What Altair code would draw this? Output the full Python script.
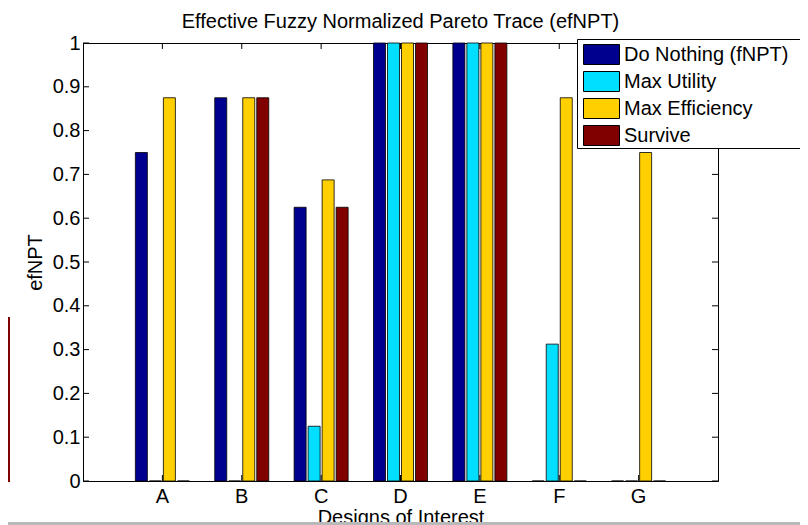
import altair as alt
import pandas as pd

designs = ["A", "B", "C", "D", "E", "F", "G"]
series = ["Do Nothing (fNPT)", "Max Utility", "Max Efficiency", "Survive"]
do_nothing = [0.75, 0.875, 0.625, 1.0, 1.0, 0.0, 0.0]
max_utility = [0.0, 0.0, 0.125, 1.0, 1.0, 0.3125, 0.0]
max_efficiency = [0.875, 0.875, 0.6875, 1.0, 1.0, 0.875, 0.75]
survive = [0.0, 0.875, 0.625, 1.0, 1.0, 0.0, 0.0]
colors = ["#00008f", "#00dfff", "#ffcf00", "#800000"]
y_ticks = [0.0, 0.1, 0.2, 0.3, 0.4, 0.5, 0.6, 0.7, 0.8, 0.9, 1.0]

W, H = 635, 438
FONT = "Liberation Sans"

rows = []
for name, vals in zip(series, [do_nothing, max_utility, max_efficiency, survive]):
    for d, v in zip(designs, vals):
        rows.append({"design": d, "series": name, "value": v})
df = pd.DataFrame(rows)

x_axis = alt.Axis(
    title="Designs of Interest",
    labelAngle=0,
    ticks=False,
    labelPadding=5,
    labelFontSize=20,
    titleFontSize=20,
    titleFontWeight="normal",
    titleY=36,
    titleBaseline="middle",
    domainColor="black",
    labelColor="black",
    titleColor="black",
)
y_axis = alt.Axis(
    title="efNPT",
    values=y_ticks,
    format=".1~f",
    ticks=False,
    grid=False,
    labelPadding=3,
    labelFontSize=20,
    titleFontSize=20,
    titleFontWeight="normal",
    titleAngle=270,
    titleX=-48,
    titleY=H / 2,
    titleBaseline="middle",
    titleAlign="center",
    domainColor="black",
    labelColor="black",
    titleColor="black",
)

bars = alt.Chart(df).mark_bar(stroke="black", strokeWidth=0.8).encode(
    x=alt.X("design:N", sort=designs,
            scale=alt.Scale(paddingInner=0, paddingOuter=0.5), axis=x_axis),
    xOffset=alt.XOffset(
        "series:N", sort=series,
        scale=alt.Scale(paddingInner=0.1429, paddingOuter=0.906),
    ),
    y=alt.Y("value:Q", scale=alt.Scale(domain=[0, 1], nice=False, zero=True),
            axis=y_axis),
    color=alt.Color(
        "series:N",
        sort=series,
        scale=alt.Scale(domain=series, range=colors),
        legend=alt.Legend(
            title=None,
            orient="none",
            legendX=493,
            legendY=-3,
            padding=4,
            symbolOffset=3,
            symbolType="M-1,-1L2.6,-1L2.6,1L-1,1Z",
            symbolSize=400,
            symbolStrokeColor="black",
            symbolStrokeWidth=1,
            symbolOpacity=1,
            labelFontSize=20,
            labelColor="black",
            labelOffset=20,
            rowPadding=2,
            labelLimit=400,
        ),
    ),
)

xt = pd.DataFrame({"design": designs})
yt = pd.DataFrame({"value": y_ticks})

top_ticks = alt.Chart(xt).mark_rule(color="black", strokeWidth=1).encode(
    x=alt.X("design:N", sort=designs, bandPosition=0.5),
    y=alt.value(0), y2=alt.value(6),
)
bottom_ticks = alt.Chart(xt).mark_rule(color="black", strokeWidth=1).encode(
    x=alt.X("design:N", sort=designs, bandPosition=0.5),
    y=alt.value(H - 6), y2=alt.value(H),
)
left_ticks = alt.Chart(yt).mark_rule(color="black", strokeWidth=1).encode(
    y=alt.Y("value:Q"),
    x=alt.value(0), x2=alt.value(6),
)
right_ticks = alt.Chart(yt).mark_rule(color="black", strokeWidth=1).encode(
    y=alt.Y("value:Q"),
    x=alt.value(W - 6), x2=alt.value(W),
)

one = pd.DataFrame({"k": [0]})
legend_frame = alt.Chart(one).mark_rect(
    fill="white", stroke="black", strokeWidth=1
).encode(
    x=alt.value(494.5), x2=alt.value(780), y=alt.value(-3.5), y2=alt.value(105.5)
)
side_block = alt.Chart(one).mark_rect(color="#800000").encode(
    x=alt.value(-75), x2=alt.value(-73), y=alt.value(274), y2=alt.value(439)
)
bottom_bar = alt.Chart(one).mark_rect(color="#b9b9b9").encode(
    x=alt.value(-75), x2=alt.value(725), y=alt.value(479), y2=alt.value(495)
)

chart = alt.layer(
    bars, top_ticks, bottom_ticks, left_ticks, right_ticks,
    legend_frame, side_block, bottom_bar
).properties(
    width=W,
    height=H,
    autosize=alt.AutoSizeParams(type="none"),
    padding={"left": 75, "top": 35, "right": 82, "bottom": 44},
    title=alt.TitleParams(
        "Effective Fuzzy Normalized Pareto Trace (efNPT)",
        fontSize=20,
        fontWeight="normal",
        font=FONT,
        color="black",
        offset=1,
        anchor="middle",
    ),
).configure(
    font=FONT,
).configure_view(
    stroke="black", strokeWidth=1
).configure_axis(
    labelFont=FONT, titleFont=FONT
).configure_legend(
    labelFont=FONT
)

chart.save("out.html", embed_options={"renderer": "svg", "actions": False})
